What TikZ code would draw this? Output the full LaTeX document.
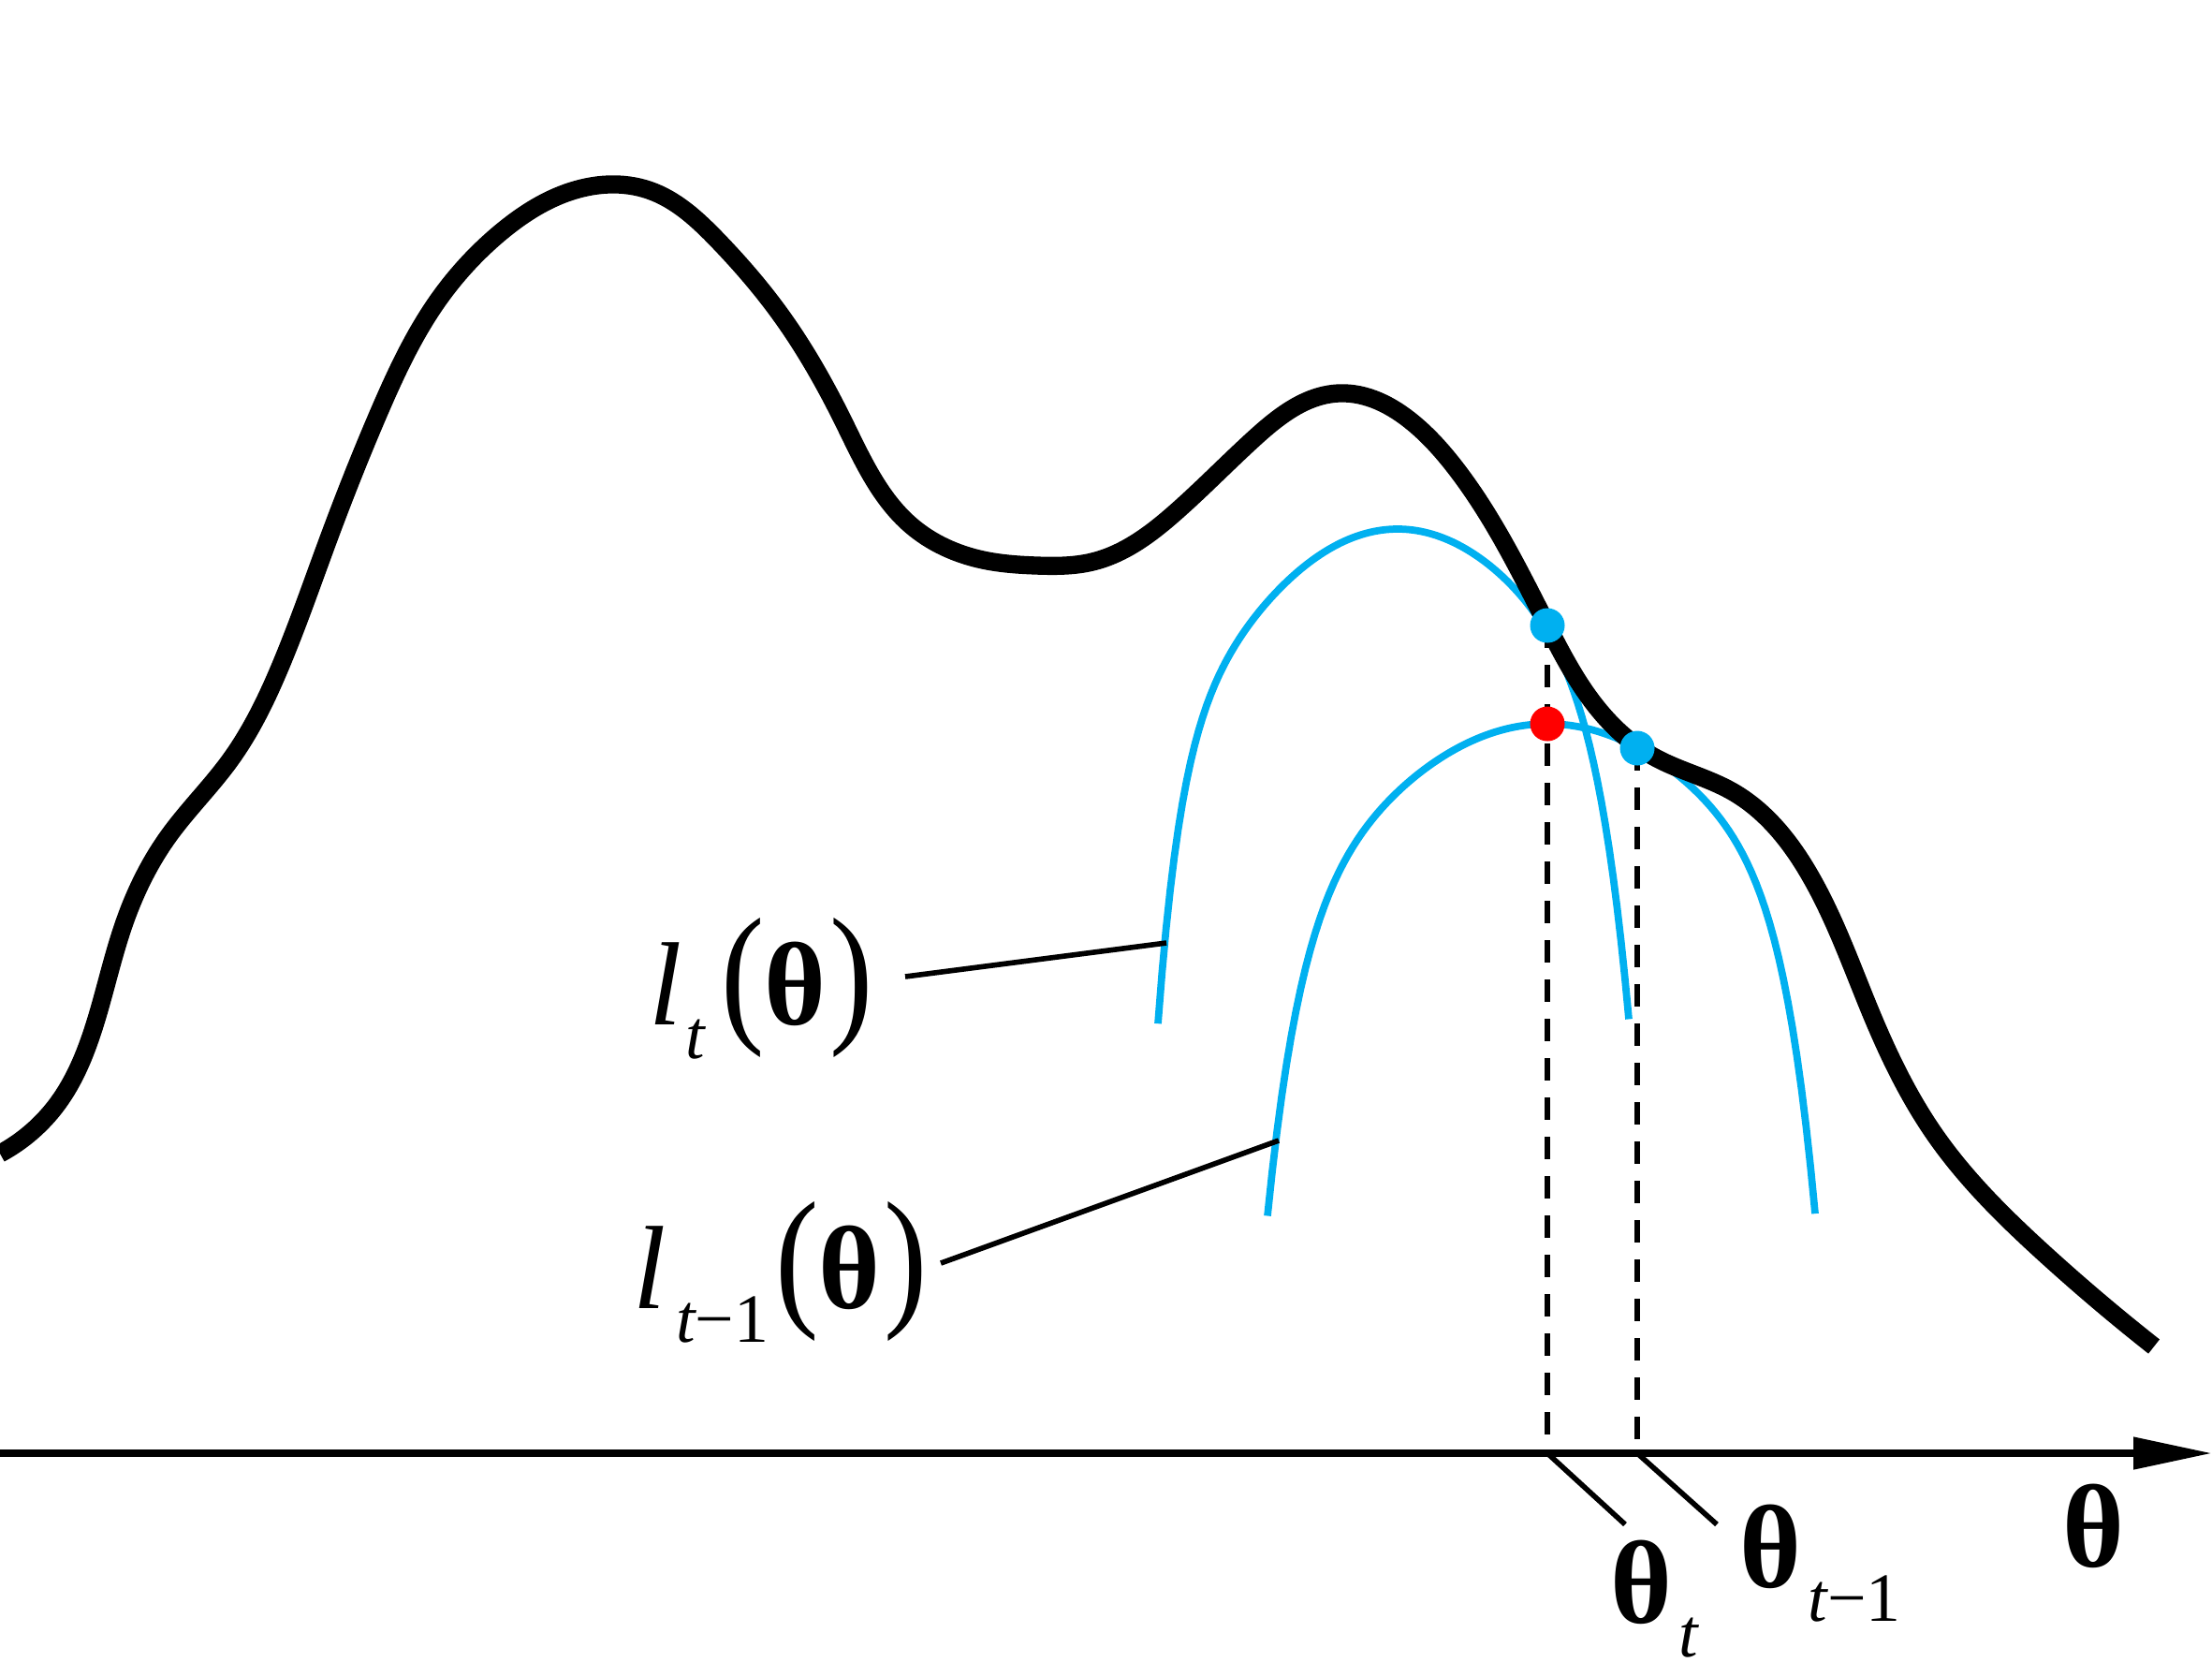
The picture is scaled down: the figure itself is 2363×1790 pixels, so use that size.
\documentclass[tikz,border=0pt]{standalone}
\usepackage{graphicx}
\usepackage{fontspec}
\setmainfont{Liberation Serif}
\usetikzlibrary{arrows.meta}
\usetikzlibrary{hobby}
\definecolor{curveblue}{RGB}{0,176,240}
\definecolor{dotred}{RGB}{255,0,0}
\newcommand{\bigParen}[1]{\scalebox{1.1}[1.3]{#1}}
\newcommand{\lowSub}[1]{\raisebox{-10.5pt}{\fontsize{21}{21}\selectfont #1}}
\newcommand{\drawDot}[3]{
	\node[circle, fill=#1, inner sep=0pt, minimum size=3.7mm] (#2) at (#3) {};
}

\begin{document}
\begin{tikzpicture}[x=0.1mm, y=-0.1mm,
	objective/.style={line width=5.5pt, black},
	surrogate/.style={line width=2.2pt, curveblue},
	leader/.style={line width=1.6pt},
	guide/.style={line width=1.8pt, dash pattern=on 2.4mm off 1.8mm},
	mathlabel/.style={anchor=base west, inner sep=0pt, font=\fontsize{36}{40}\selectfont}]
%%%%%%%%%%%%%%%%%%
\useasboundingbox (0,0) rectangle (2363,1790);

%Points
	\coordinate (axisstart) at (0,1552);
	\coordinate (axisend) at (2363,1552);
	\coordinate (thetatbase) at (1653,1552);
	\coordinate (thetasbase) at (1749,1552);
	\coordinate (thetattick) at (1736,1628);
	\coordinate (thetastick) at (1834,1628);
	\coordinate (touchnew) at (1653,668);
	\coordinate (peakold) at (1653,773);
	\coordinate (touchold) at (1749,799);
	\coordinate (ltfoot) at (967,1043);
	\coordinate (ltpin) at (1246,1007);
	\coordinate (lsfoot) at (1005,1349);
	\coordinate (lspin) at (1366,1218);

%Draw axis
	\draw[line width=2.2pt, -{Triangle[length=8.4mm, width=3.3mm]}] (axisstart) -- (axisend);

%Dashed guides and ticks
	\draw[guide] (touchnew) -- (thetatbase);
	\draw[guide] (touchold) -- (thetasbase);
	\draw[leader] (thetatbase) -- (thetattick);
	\draw[leader] (thetasbase) -- (thetastick);

% Surrogate curves
	\draw[surrogate] plot[domain=1237:1493, samples=60] (\x, {565+250*((1493-\x)/250)^2+205*((1493-\x)/250)^11})
		-- plot[domain=1493:1740, samples=60] (\x, {565+230.4*((\x-1493)/240)^2+222*((\x-1493)/240)^8});
	\draw[surrogate] plot[domain=1354:1653, samples=60] (\x, {773+235.5*((1653-\x)/290)^2+209*((1653-\x)/290)^9})
		-- plot[domain=1653:1939, samples=60] (\x, {773+210.2*((\x-1653)/274)^2+200*((\x-1653)/274)^9});

% Objective
	\draw[objective, use Hobby shortcut] (0,1232) .. (62,1178) .. (100,1098) .. (133,985) .. (180,893) .. (245,813) .. (301,708) .. (350,578) .. (405,440) .. (467,322) .. (535,248) .. (605,206) .. (650,197) .. (693,203) .. (767,257) .. (833,335) .. (900,448) .. (973,561) .. (1050,598) .. (1107,604) .. (1167,600) .. (1257,546) .. (1340,468) .. (1430,420) .. (1510,452) .. (1555,500) .. (1653,668) .. (1700,748) .. (1735,786) .. (1770,810) .. (1850,845) .. (1933,934) .. (2000,1085) .. (2067,1212) .. (2183,1338) .. (2301,1438);

% Plot points
\drawDot{curveblue}{newdot}{touchnew}
\drawDot{dotred}{peakdot}{peakold}
\drawDot{curveblue}{olddot}{touchold}

% Labels
	\node[mathlabel] (lt) at (693,1094) {{\itshape l}\kern1pt\lowSub{\itshape t}\kern5pt\bigParen{(}{\bfseries θ}\kern1pt\bigParen{)}};
	\node[mathlabel] (ls) at (676,1397) {{\itshape l}\kern3pt\lowSub{{\itshape t}−1}\kern2pt\bigParen{(}{\bfseries θ}\kern1pt\bigParen{)}};
	\draw[leader] (ltfoot) -- (ltpin);
	\draw[leader] (lsfoot) -- (lspin);

	\node[mathlabel] (thetat) at (1720,1733) {{\bfseries θ}\kern2pt\lowSub{\itshape t}};
	\node[mathlabel] (thetas) at (1858,1695) {{\bfseries θ}\kern2pt\lowSub{{\itshape t}−1}};
	\node[mathlabel] (thetaaxis) at (2203,1673) {\bfseries θ};

\end{tikzpicture}
\end{document}
